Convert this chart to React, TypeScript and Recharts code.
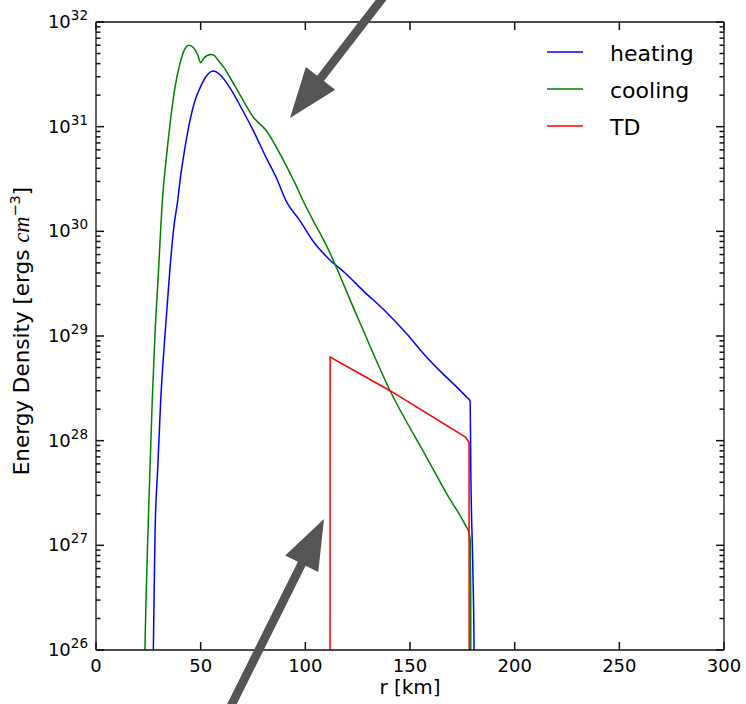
import React from 'react';
import { LineChart, Line, XAxis, YAxis, Legend } from 'recharts';

// ---------- data ----------
const xTicks = [0, 50, 100, 150, 200, 250, 300];
const yDomain = [1e26, 1e32];
const yMajorTicks = [1e26, 1e27, 1e28, 1e29, 1e30, 1e31, 1e32];
const yMinorFactors = [2, 3, 4, 5, 6, 7, 8, 9];

const heatingR = [26.9, 27.4, 28.2, 29.5, 30.9, 33.0, 35.4, 37.2, 39.0, 40.1, 42.5, 44.9, 47.2, 49.7, 52.5, 56, 59.5, 64, 69.5, 75.2, 81, 86.3, 91.1, 97.5, 104, 111, 119, 127.7, 138, 148.4, 157, 166, 172, 177.1, 178.7, 179.1, 180.0, 180.6, 180.8];
const heatingV = [2e25, 1e26, 1.3e27, 5.5e27, 2.4e28, 1.05e29, 4.6e29, 1.1e30, 1.95e30, 3.0e30, 6.3e30, 1.15e31, 1.75e31, 2.35e31, 3.0e31, 3.4e31, 3.1e31, 2.35e31, 1.5e31, 9.1e30, 5.2e30, 3.2e30, 1.9e30, 1.26e30, 7.9e29, 5.5e29, 4.0e29, 2.7e29, 1.74e29, 1.05e29, 6.6e28, 4.3e28, 3.3e28, 2.6e28, 2.4e28, 4.2e27, 6.3e26, 1e26, 2e25];

const coolingR = [23.0, 23.4, 23.9, 24.8, 25.8, 26.9, 28.2, 29.8, 31.7, 33.8, 35.7, 37.7, 40.1, 42, 44.4, 46.5, 48.5, 50, 51.5, 54.8, 56.5, 58, 61, 64, 69.5, 75.2, 81.5, 87.9, 95, 99, 103.8, 109.4, 125, 140.5, 158, 168, 176.5, 178.3, 178.8, 179.0, 179.1];
const coolingV = [2e25, 1e26, 3.0e26, 1.3e27, 5.5e27, 2.5e28, 1.05e29, 4.0e29, 1.95e30, 5.5e30, 1.2e31, 2.35e31, 4.0e31, 5.3e31, 6.0e31, 5.7e31, 4.9e31, 4.1e31, 4.5e31, 4.9e31, 4.8e31, 4.4e31, 3.7e31, 2.95e31, 1.9e31, 1.23e31, 9.1e30, 5.5e30, 2.9e30, 1.95e30, 1.26e30, 7.8e29, 1.5e29, 3.0e28, 6.9e27, 3.0e27, 1.55e27, 1.3e27, 1.1e27, 3.2e26, 2e25];

const tdR = [111.8, 111.85, 140.5, 176.5, 178.2, 178.3];
const tdV = [2e25, 6.3e28, 3.0e28, 1.08e28, 9.6e27, 2e25];

const seriesNames = ['heating', 'cooling', 'TD'];
const seriesColors = ['#0000ff', '#008000', '#ff0000'];
const xTitle = 'r [km]';

const zip = (rs: number[], vs: number[]) => rs.map((r, i) => ({ r, v: vs[i] }));
const heatingData = zip(heatingR, heatingV);
const coolingData = zip(coolingR, coolingV);
const tdData = zip(tdR, tdV);

const yTicks: number[] = [];
yMajorTicks.forEach((m, i) => {
  yTicks.push(m);
  if (i < yMajorTicks.length - 1) yMinorFactors.forEach((f) => yTicks.push(f * m));
});

// ---------- styling / layout ----------
const FONT = 'DejaVu Sans, sans-serif';
const AXIS_COLOR = '#111';
const TICK_COLOR = '#111';
const ARROW_COLOR = '#555';
const W = 746;
const H = 704;
const MARGIN = { top: 21, right: 21, bottom: 0, left: 0 };
const Y_AXIS_W = 96;
const X_AXIS_H = 54;
const plotLeft = MARGIN.left + Y_AXIS_W;
const plotRight = W - MARGIN.right - 1;
const plotTop = MARGIN.top + 1;
const plotBottom = H - X_AXIS_H;
const MAJOR = 8;
const MINOR = 4.5;
const TICK_W = 1.5;

const isMajor = (v: number) => {
  const e = Math.log10(v);
  return Math.abs(e - Math.round(e)) < 1e-9;
};

const BottomTick = (props: any) => {
  const x = Number(props.x);
  const y = Number(props.y);
  return (
    <g>
      <text x={x} y={y + 22} textAnchor="middle" fontSize={18} fontFamily={FONT} fill="#000">
        {props.payload.value}
      </text>
    </g>
  );
};

// top axis ticks: draws the inward marks on both the top and the bottom frame edge
const TopTick = (props: any) => {
  const x = Number(props.x);
  const y = Number(props.y);
  return (
    <g>
      <line x1={x} x2={x} y1={y} y2={y + MAJOR} stroke={TICK_COLOR} strokeWidth={TICK_W} />
      <line x1={x} x2={x} y1={plotBottom} y2={plotBottom - MAJOR} stroke={TICK_COLOR} strokeWidth={TICK_W} />
    </g>
  );
};

const LeftTick = (props: any) => {
  const x = Number(props.x);
  const y = Number(props.y);
  const v = props.payload.value;
  if (!isMajor(v)) return <g />;
  const e = Math.round(Math.log10(v));
  return (
    <text x={x - 8} y={y + 6} textAnchor="end" fontFamily={FONT} fill="#000">
      <tspan fontSize={18}>10</tspan>
      <tspan fontSize={13.5} dy={-8}>{e}</tspan>
    </text>
  );
};

// right axis ticks: draws the inward marks on both the right and the left frame edge
const RightTick = (props: any) => {
  const x = Number(props.x);
  const y = Number(props.y);
  const len = isMajor(props.payload.value) ? MAJOR : MINOR;
  return (
    <g>
      <line x1={x} x2={x - len} y1={y} y2={y} stroke={TICK_COLOR} strokeWidth={TICK_W} />
      <line x1={plotLeft} x2={plotLeft + len} y1={y} y2={y} stroke={TICK_COLOR} strokeWidth={TICK_W} />
    </g>
  );
};

const LegendContent = (props: any) => {
  const payload = [...(props.payload || [])]
    .filter((p: any) => seriesNames.includes(p.value))
    .sort((a: any, b: any) => seriesNames.indexOf(a.value) - seriesNames.indexOf(b.value));
  return (
    <svg width={200} height={130} style={{ display: 'block' }}>
      {payload.map((p: any, i: number) => {
        const cy = 32 + i * 37;
        return (
          <g key={i}>
            <line x1={7} x2={43} y1={cy} y2={cy} stroke={p.color} strokeWidth={1.5} />
            <text x={70} y={cy + 8.5} fontSize={22} fontFamily={FONT} fill="#000">
              {p.value}
            </text>
          </g>
        );
      })}
    </svg>
  );
};

// annotation arrows (decorations, in page pixels)
const arrows = [
  { tail: [388, -9], tip: [290, 118] },
  { tail: [228, 712], tip: [324, 519] },
];

const arrowPoints = (tail: number[], tip: number[]) => {
  const dx = tip[0] - tail[0];
  const dy = tip[1] - tail[1];
  const L = Math.hypot(dx, dy);
  const ux = dx / L, uy = dy / L;
  const nx = -uy, ny = ux;
  const headLen = 50, headHalf = 18.5, shaftHalf = 4.3;
  const bx = tip[0] - ux * headLen, by = tip[1] - uy * headLen;
  const pts = [
    [tail[0] + nx * shaftHalf, tail[1] + ny * shaftHalf],
    [bx + nx * shaftHalf, by + ny * shaftHalf],
    [bx + nx * headHalf, by + ny * headHalf],
    [tip[0], tip[1]],
    [bx - nx * headHalf, by - ny * headHalf],
    [bx - nx * shaftHalf, by - ny * shaftHalf],
    [tail[0] - nx * shaftHalf, tail[1] - ny * shaftHalf],
  ];
  return pts.map((p) => p.join(',')).join(' ');
};

const axisLineStyle = { stroke: AXIS_COLOR, strokeWidth: 1.3 };

export default function App() {
  return (
    <div style={{ position: 'absolute', left: 0, top: 0, width: W, height: H, background: '#fff' }}>
      <LineChart width={W} height={H} margin={MARGIN}>
        <XAxis
          xAxisId="b"
          type="number"
          dataKey="r"
          domain={[0, 300]}
          ticks={xTicks}
          interval={0}
          height={X_AXIS_H}
          tickSize={0}
          tickMargin={0}
          tickLine={false}
          axisLine={axisLineStyle}
          tick={<BottomTick />}
          allowDataOverflow
        />
        <XAxis
          xAxisId="t"
          orientation="top"
          type="number"
          dataKey="r"
          domain={[0, 300]}
          ticks={xTicks}
          interval={0}
          height={1}
          tickSize={0}
          tickMargin={0}
          tickLine={false}
          axisLine={axisLineStyle}
          tick={<TopTick />}
          allowDataOverflow
        />
        <YAxis
          yAxisId="l"
          type="number"
          dataKey="v"
          scale="log"
          domain={yDomain}
          ticks={yTicks}
          interval={0}
          width={Y_AXIS_W}
          tickSize={0}
          tickMargin={0}
          tickLine={false}
          axisLine={axisLineStyle}
          tick={<LeftTick />}
          allowDataOverflow
        />
        <YAxis
          yAxisId="r"
          orientation="right"
          type="number"
          dataKey="v"
          scale="log"
          domain={yDomain}
          ticks={yTicks}
          interval={0}
          width={1}
          tickSize={0}
          tickMargin={0}
          tickLine={false}
          axisLine={axisLineStyle}
          tick={<RightTick />}
          allowDataOverflow
        />
        <Legend
          layout="vertical"
          align="center"
          verticalAlign="middle"
          content={<LegendContent />}
          wrapperStyle={{ position: 'absolute', left: 540, top: 20, width: 200, height: 130 }}
        />
        <Line xAxisId="t" yAxisId="r" data={heatingData} dataKey="v" stroke="none" legendType="none" dot={false} activeDot={false} isAnimationActive={false} />
        <Line xAxisId="b" yAxisId="l" data={heatingData} dataKey="v" name={seriesNames[0]} stroke={seriesColors[0]} strokeWidth={1.5} dot={false} type="monotone" isAnimationActive={false} />
        <Line xAxisId="b" yAxisId="l" data={coolingData} dataKey="v" name={seriesNames[1]} stroke={seriesColors[1]} strokeWidth={1.5} dot={false} type="monotone" isAnimationActive={false} />
        <Line xAxisId="b" yAxisId="l" data={tdData} dataKey="v" name={seriesNames[2]} stroke={seriesColors[2]} strokeWidth={1.5} dot={false} type="linear" isAnimationActive={false} />
      </LineChart>
      <svg width={W} height={H} style={{ position: 'absolute', left: 0, top: 0, pointerEvents: 'none' }}>
        <text x={(plotLeft + plotRight) / 2} y={694} textAnchor="middle" fontSize={20} fontFamily={FONT} fill="#000">
          {xTitle}
        </text>
        <text
          transform={`translate(29, ${(plotTop + plotBottom) / 2 - 5}) rotate(-90)`}
          textAnchor="middle"
          fontSize={21.5}
          fontFamily={FONT}
          fill="#000"
        >
          Energy Density [ergs{' '}
          <tspan fontFamily="Liberation Serif, serif" fontStyle="italic" fontSize={22.5}>cm</tspan>
          <tspan fontSize={14.5} dy={-9}>−3</tspan>
          <tspan dy={9}>]</tspan>
        </text>
        {arrows.map((a, i) => (
          <polygon key={i} points={arrowPoints(a.tail, a.tip)} fill={ARROW_COLOR} />
        ))}
      </svg>
    </div>
  );
}
